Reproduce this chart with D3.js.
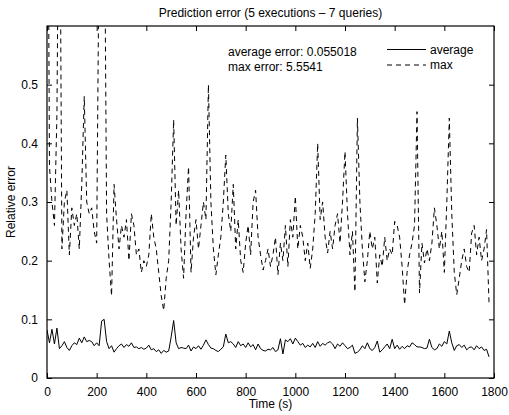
<!DOCTYPE html>
<html>
<head>
<meta charset="utf-8">
<script src="https://cdn.jsdelivr.net/npm/d3@7"></script>
<style>
  body { margin: 0; background: #fff; }
  text { font-family: "Liberation Sans", Arial, Helvetica, sans-serif; fill: #000; }
</style>
</head>
<body>
<div id="chart"></div>
<script>
const WIDTH = 509, HEIGHT = 415;
const LEFT = 47, RIGHT = 494, TOP = 26, BOTTOM = 378;

const TITLE = "Prediction error (5 executions \u2013 7 queries)";
const X_LABEL = "Time (s)";
const Y_LABEL = "Relative error";
const NOTES = ["average error: 0.055018", "max error: 5.5541"];
const SERIES_NAMES = ["average", "max"];

const X_TICKS = [0, 200, 400, 600, 800, 1000, 1200, 1400, 1600, 1800];
const Y_TICKS = [0, 0.1, 0.2, 0.3, 0.4, 0.5];

// sample times (s)
const times = [
  0,10,20,30,40,50,60,70,80,90,100,110,120,130,140,150,160,170,180,190,
  200,210,220,230,240,250,260,270,280,290,300,310,320,330,340,350,360,370,380,390,
  400,410,420,430,440,450,460,470,480,490,500,510,520,530,540,550,560,570,580,590,
  600,610,620,630,640,650,660,670,680,690,700,710,720,730,740,750,760,770,780,790,
  800,810,820,830,840,850,860,870,880,890,900,910,920,930,940,950,960,970,980,990,
  1000,1010,1020,1030,1040,1050,1060,1070,1080,1090,1100,1110,1120,1130,1140,1150,1160,1170,1180,1190,
  1200,1210,1220,1230,1240,1250,1260,1270,1280,1290,1300,1310,1320,1330,1340,1350,1360,1370,1380,1390,
  1400,1410,1420,1430,1440,1450,1460,1470,1480,1490,1500,1510,1520,1530,1540,1550,1560,1570,1580,1590,
  1600,1610,1620,1630,1640,1650,1660,1670,1680,1690,1700,1710,1720,1730,1740,1750,1760,1770,1780
];

const avgError = [
  0.082,0.060,0.083,0.058,0.085,0.050,0.055,0.062,0.052,0.047,0.055,0.060,0.057,0.068,0.060,0.070,0.062,0.064,0.062,0.055,
  0.060,0.055,0.097,0.100,0.062,0.050,0.055,0.044,0.050,0.055,0.058,0.052,0.057,0.054,0.060,0.052,0.053,0.050,0.052,0.049,
  0.051,0.056,0.048,0.050,0.045,0.048,0.042,0.047,0.044,0.046,0.070,0.098,0.060,0.050,0.052,0.051,0.050,0.056,0.046,0.053,
  0.050,0.055,0.049,0.056,0.065,0.057,0.051,0.050,0.047,0.045,0.049,0.053,0.075,0.060,0.062,0.058,0.052,0.062,0.055,0.058,
  0.052,0.060,0.053,0.057,0.048,0.058,0.050,0.047,0.046,0.049,0.048,0.052,0.045,0.048,0.067,0.041,0.065,0.062,0.067,0.058,
  0.068,0.062,0.056,0.059,0.052,0.056,0.053,0.059,0.052,0.062,0.054,0.059,0.056,0.060,0.062,0.058,0.050,0.058,0.054,0.060,
  0.055,0.050,0.052,0.056,0.042,0.044,0.048,0.055,0.050,0.060,0.050,0.047,0.052,0.063,0.044,0.048,0.053,0.058,0.050,0.066,
  0.050,0.056,0.049,0.054,0.050,0.055,0.053,0.060,0.057,0.053,0.053,0.052,0.050,0.051,0.066,0.052,0.048,0.050,0.058,0.054,
  0.062,0.058,0.080,0.060,0.047,0.055,0.057,0.052,0.056,0.048,0.052,0.053,0.048,0.055,0.050,0.053,0.047,0.049,0.036
];

const maxError = [
  1.20,0.36,0.30,0.26,0.45,1.00,0.22,0.30,0.32,0.21,0.29,0.26,0.28,0.22,0.33,0.48,0.30,0.28,0.29,0.25,
  0.23,0.75,1.50,0.90,0.28,0.20,0.14,0.33,0.27,0.22,0.26,0.24,0.27,0.20,0.28,0.26,0.21,0.22,0.18,0.20,
  0.19,0.21,0.28,0.24,0.22,0.18,0.14,0.115,0.17,0.20,0.30,0.44,0.26,0.32,0.22,0.17,0.28,0.36,0.18,0.24,
  0.27,0.22,0.26,0.30,0.27,0.50,0.30,0.22,0.176,0.21,0.24,0.30,0.38,0.28,0.25,0.33,0.22,0.27,0.20,0.18,
  0.23,0.26,0.21,0.30,0.32,0.24,0.21,0.184,0.20,0.22,0.19,0.21,0.24,0.176,0.23,0.20,0.26,0.19,0.27,0.24,
  0.31,0.22,0.26,0.24,0.20,0.23,0.187,0.22,0.28,0.40,0.27,0.30,0.24,0.213,0.25,0.22,0.26,0.28,0.23,0.30,
  0.386,0.28,0.21,0.25,0.147,0.443,0.30,0.22,0.164,0.20,0.25,0.22,0.24,0.162,0.21,0.19,0.24,0.20,0.22,0.21,
  0.267,0.26,0.24,0.19,0.125,0.18,0.21,0.23,0.26,0.454,0.145,0.23,0.196,0.22,0.20,0.23,0.29,0.26,0.22,0.25,
  0.18,0.30,0.443,0.28,0.18,0.142,0.17,0.20,0.22,0.19,0.18,0.247,0.26,0.21,0.24,0.20,0.22,0.253,0.128
];

var svg = d3.select("#chart").append("svg")
    .attr("width", WIDTH)
    .attr("height", HEIGHT);

var x = d3.scaleLinear().domain([0, 1800]).range([LEFT, RIGHT]);
var y = d3.scaleLinear().domain([0, 0.6]).range([BOTTOM, TOP]);

svg.append("defs").append("clipPath").attr("id", "plot-clip")
    .append("rect")
    .attr("x", LEFT).attr("y", TOP)
    .attr("width", RIGHT - LEFT).attr("height", BOTTOM - TOP);

var line = function (values) {
    return d3.line()
        .x(function (d, i) { return x(times[i]); })
        .y(function (d) { return y(d); })(values);
};

var plot = svg.append("g").attr("clip-path", "url(#plot-clip)");

plot.append("path")
    .attr("d", line(maxError))
    .attr("fill", "none")
    .attr("stroke", "#000")
    .attr("stroke-width", 1)
    .attr("stroke-dasharray", "5,4");

plot.append("path")
    .attr("d", line(avgError))
    .attr("fill", "none")
    .attr("stroke", "#000")
    .attr("stroke-width", 1);

// axes, MATLAB style: ticks inside on all four sides
var fmtY = function (d) { return d === 0 ? "0" : d3.format(".1f")(d); };

var styleAxis = function (g) {
    g.select(".domain").remove();
    g.selectAll(".tick line").attr("stroke", "#000");
    g.selectAll(".tick text").style("font-size", "12px").attr("fill", "#000");
};

svg.append("g")
    .attr("transform", "translate(0," + BOTTOM + ")")
    .call(d3.axisBottom(x).tickValues(X_TICKS).tickSizeInner(-5).tickSizeOuter(0).tickPadding(9).tickFormat(d3.format("d")))
    .call(styleAxis);

svg.append("g")
    .attr("transform", "translate(0," + TOP + ")")
    .call(d3.axisTop(x).tickValues(X_TICKS).tickSizeInner(-5).tickSizeOuter(0).tickFormat(""))
    .call(styleAxis);

svg.append("g")
    .attr("transform", "translate(" + LEFT + ",0)")
    .call(d3.axisLeft(y).tickValues(Y_TICKS).tickSizeInner(-5).tickSizeOuter(0).tickPadding(9).tickFormat(fmtY))
    .call(styleAxis);

svg.append("g")
    .attr("transform", "translate(" + RIGHT + ",0)")
    .call(d3.axisRight(y).tickValues(Y_TICKS).tickSizeInner(-5).tickSizeOuter(0).tickFormat(""))
    .call(styleAxis);

svg.append("rect")
    .attr("x", LEFT).attr("y", TOP)
    .attr("width", RIGHT - LEFT).attr("height", BOTTOM - TOP)
    .attr("fill", "none")
    .attr("stroke", "#000")
    .attr("stroke-width", 1.2);

// labels
svg.append("text")
    .attr("x", (LEFT + RIGHT) / 2).attr("y", 17)
    .attr("text-anchor", "middle")
    .style("font-size", "12px")
    .text(TITLE);

svg.append("text")
    .attr("x", (LEFT + RIGHT) / 2).attr("y", 408)
    .attr("text-anchor", "middle")
    .style("font-size", "12px")
    .text(X_LABEL);

svg.append("text")
    .attr("transform", "translate(15," + ((TOP + BOTTOM) / 2) + ") rotate(-90)")
    .attr("text-anchor", "middle")
    .style("font-size", "12px")
    .text(Y_LABEL);

svg.selectAll(".note")
    .data(NOTES)
    .enter().append("text")
    .attr("class", "note")
    .attr("x", 228)
    .attr("y", function (d, i) { return 56 + i * 14.5; })
    .style("font-size", "12px")
    .text(function (d) { return d; });

// legend
var legend = svg.selectAll(".legend")
    .data(SERIES_NAMES)
    .enter().append("g")
    .attr("class", "legend")
    .attr("transform", function (d, i) { return "translate(0," + (49.5 + i * 15.5) + ")"; });

legend.append("line")
    .attr("x1", 387).attr("x2", 426)
    .attr("stroke", "#000")
    .attr("stroke-width", 1)
    .attr("stroke-dasharray", function (d, i) { return i === 1 ? "5,4" : null; });

legend.append("text")
    .attr("x", 430).attr("y", 4)
    .style("font-size", "12px")
    .text(function (d) { return d; });
</script>
</body>
</html>
